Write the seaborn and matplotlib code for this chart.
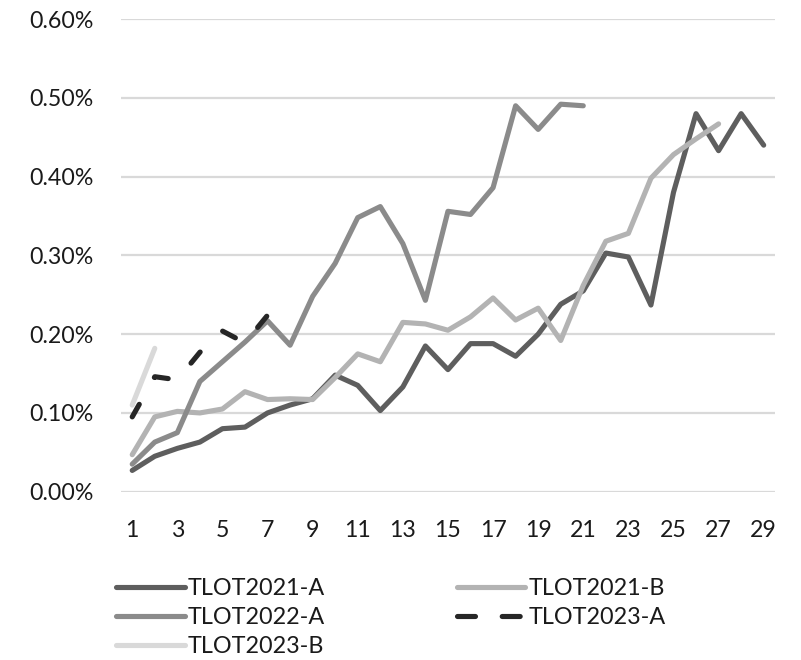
import matplotlib
matplotlib.use('Agg')
import matplotlib.pyplot as plt
import matplotlib.ticker as mticker
from matplotlib.lines import Line2D
import seaborn as sns
import numpy as np
import pandas as pd

# values (percent)
tlot2021_a = [0.027, 0.045, 0.055, 0.063, 0.080, 0.082, 0.100, 0.110, 0.118, 0.148,
              0.135, 0.103, 0.133, 0.185, 0.155, 0.188, 0.188, 0.172, 0.200, 0.238,
              0.255, 0.303, 0.298, 0.237, 0.380, 0.480, 0.433, 0.480, 0.440]
tlot2021_b = [0.047, 0.095, 0.102, 0.100, 0.105, 0.127, 0.117, 0.118, 0.117, 0.145,
              0.175, 0.165, 0.215, 0.213, 0.205, 0.222, 0.246, 0.218, 0.233, 0.192,
              0.262, 0.318, 0.328, 0.398, 0.428, 0.448, 0.467]
tlot2022_a = [0.035, 0.063, 0.075, 0.140, 0.165, 0.190, 0.217, 0.186, 0.248, 0.290,
              0.348, 0.362, 0.315, 0.243, 0.356, 0.352, 0.386, 0.490, 0.460, 0.492,
              0.490]
tlot2023_a = [0.095, 0.146, 0.142, 0.177, 0.204, 0.189, 0.224]
tlot2023_b = [0.110, 0.182]

series = {
    'TLOT2021-A': tlot2021_a,
    'TLOT2021-B': tlot2021_b,
    'TLOT2022-A': tlot2022_a,
    'TLOT2023-A': tlot2023_a,
    'TLOT2023-B': tlot2023_b,
}
colors = {
    'TLOT2021-A': '#5e5e5e',
    'TLOT2021-B': '#b3b3b3',
    'TLOT2022-A': '#8b8b8b',
    'TLOT2023-A': '#262626',
    'TLOT2023-B': '#d9d9d9',
}
dashes = {k: '' for k in series}
dashes['TLOT2023-A'] = (2.8, 6.0)

rows = []
for name, vals in series.items():
    for i, v in enumerate(vals):
        rows.append({'period': i + 1, 'rate': v, 'series': name})
df = pd.DataFrame(rows)

sns.set_theme(style='white')
plt.rcParams['font.family'] = ['Lato', 'DejaVu Sans']
plt.rcParams['lines.solid_capstyle'] = 'round'
plt.rcParams['lines.dash_capstyle'] = 'round'

fig = plt.figure(figsize=(8.01, 6.6), dpi=100)
ax = fig.add_axes([0.151, 0.255, 0.8165, 0.716])

order = list(series.keys())
sns.lineplot(data=df, x='period', y='rate', hue='series', style='series',
             hue_order=order, style_order=order, palette=colors, dashes=dashes,
             linewidth=3.7, legend=False, ax=ax, sort=False)

ax.set_xlim(0.5, 29.5)
ax.set_ylim(0, 0.6)
ax.set_xticks(range(1, 30, 2))
ax.set_yticks(np.arange(0, 0.61, 0.1))
ax.yaxis.set_major_formatter(mticker.FuncFormatter(lambda v, p: f'{v:.2f}%'))
ax.grid(axis='y', color='#d9d9d9', linewidth=1.6)
ax.set_axisbelow(True)
for s in ax.spines.values():
    s.set_visible(False)
ax.tick_params(axis='both', length=0, labelsize=16.7, colors='#1a1a1a')
ax.tick_params(axis='y', pad=20)
ax.tick_params(axis='x', pad=20.5)
ax.set_xlabel('')
ax.set_ylabel('')

# legend proxies (dashed one gets two clean dashes like the reference)
handles = {}
for name in order:
    ls = (0, (3.5, 5.2)) if name == 'TLOT2023-A' else '-'
    handles[name] = Line2D([0], [0], color=colors[name], linewidth=3.7, linestyle=ls)
leg_order = ['TLOT2021-A', 'TLOT2022-A', 'TLOT2023-B', 'TLOT2021-B', 'TLOT2023-A']
fig.legend([handles[n] for n in leg_order], leg_order, ncol=2, frameon=False,
           loc='upper left', bbox_to_anchor=(0.13, 0.142), fontsize=16.8,
           handlelength=2.95, handletextpad=0.12, columnspacing=5.65,
           labelspacing=0.35, borderpad=0, labelcolor='#1a1a1a')

fig.savefig('out.png', dpi=100)
